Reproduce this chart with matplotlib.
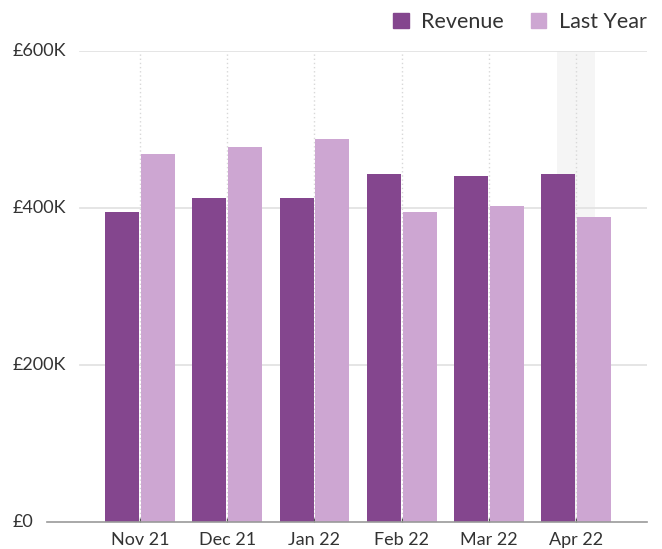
import matplotlib
matplotlib.use("Agg")
import matplotlib.pyplot as plt
from matplotlib.patches import Patch
import numpy as np

plt.rcParams['font.family'] = ['Lato', 'DejaVu Sans']

months = ["Nov 21", "Dec 21", "Jan 22", "Feb 22", "Mar 22", "Apr 22"]
revenue = [395000, 413000, 413000, 443000, 441000, 443000]
last_year = [469000, 478000, 488000, 395000, 402000, 388000]
y_ticks = [0, 200000, 400000, 600000]
y_labels = ["£0", "£200K", "£400K", "£600K"]

rev_color = "#84468E"
ly_color = "#CDA6D2"
text_color = "#333333"

fig = plt.figure(figsize=(6.62, 5.49), dpi=100)
ax = fig.add_axes([47 / 662, 1 - 522 / 549, 600 / 662, 471 / 549])

x = np.arange(len(months))
w = 0.39
off = 0.205

# highlight band on last month
ax.axvspan(x[-1] - 0.22, x[-1] + 0.22, ymin=0, ymax=1, color="#f5f5f5", zorder=0, lw=0)

# dotted vertical guides
for xi in x:
    ax.plot([xi, xi], [0, 600000], color="#d8d8d8", lw=1, ls=(0, (1, 2)), zorder=1)

# horizontal gridlines (start a bit right of axis line)
for yt in y_ticks[1:]:
    ax.axhline(yt, xmin=33 / 600, xmax=1, color="#e3e3e3", lw=1.3, zorder=1)

ax.bar(x - off, revenue, width=w, color=rev_color, zorder=2)
ax.bar(x + off, last_year, width=w, color=ly_color, zorder=2)

ax.set_xlim(-1.067, 5.814)
ax.set_ylim(0, 600000)

for s in ["top", "right", "left"]:
    ax.spines[s].set_visible(False)
ax.spines["bottom"].set_color("#999999")
ax.spines["bottom"].set_linewidth(1.2)

ax.set_xticks(x)
ax.set_xticklabels(months, fontsize=13, color=text_color)
ax.tick_params(axis="x", direction="in", length=3, width=1, color="#555555", pad=7)
ax.set_yticks([])

for yt, lab in zip(y_ticks, y_labels):
    ax.text(-34 / 600, yt, lab, transform=ax.get_yaxis_transform(), ha="left", va="center",
            fontsize=13, color=text_color)

handles = [Patch(color=rev_color, label="Revenue"), Patch(color=ly_color, label="Last Year")]
fig.legend(handles=handles, loc="center right", bbox_to_anchor=(647 / 662, 1 - 22 / 549),
           ncol=2, frameon=False, fontsize=15.5, handlelength=0.7, handleheight=0.7,
           handletextpad=0.6, columnspacing=1.25, borderpad=0, borderaxespad=0,
           labelcolor=text_color)

fig.savefig("out.png", dpi=100)
